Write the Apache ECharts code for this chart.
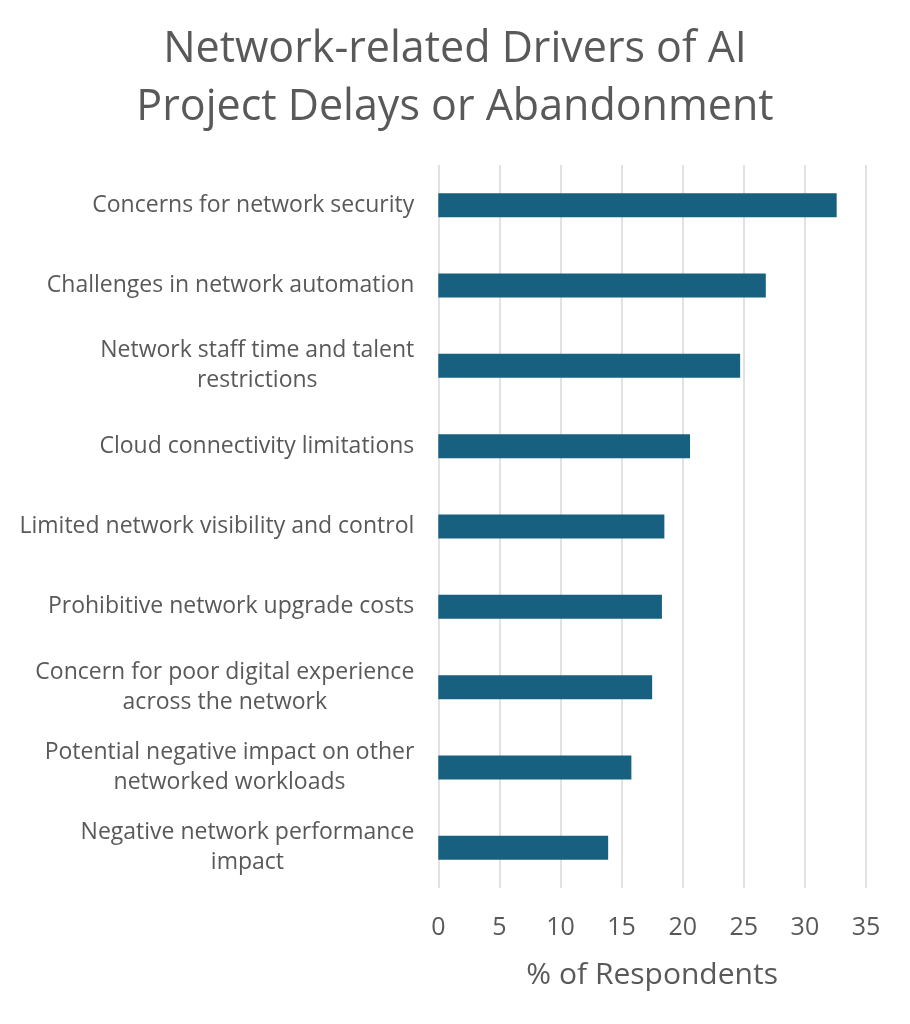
<!DOCTYPE html>
<html>
<head>
<meta charset="utf-8">
<script src="https://cdn.jsdelivr.net/npm/echarts@6/dist/echarts.min.js"></script>
<style>
html,body{margin:0;padding:0;background:#fff;}
#chart{width:910px;height:1024px;}
</style>
</head>
<body>
<div id="chart"></div>
<script>
const titleText = "Network-related Drivers of AI\nProject Delays or Abandonment";
const categories = [
  "Concerns for network security",
  "Challenges in network automation",
  "Network staff time and talent\nrestrictions",
  "Cloud connectivity limitations",
  "Limited network visibility and control",
  "Prohibitive network upgrade costs",
  "Concern for poor digital experience\nacross the network",
  "Potential negative impact on other\nnetworked workloads",
  "Negative network performance\nimpact"
];
const values = [32.6, 26.8, 24.7, 20.6, 18.5, 18.3, 17.5, 15.8, 13.9];
const xAxisName = "% of Respondents";

const FONT = "Open Sans";
const TXT = "#595959";
const LABEL_SIZE = 23;

// Multi-line labels: lines centred within block, block right-aligned
const ctx = document.createElement('canvas').getContext('2d');
ctx.font = LABEL_SIZE + "px '" + FONT + "'";
const catData = categories.map(function (c) {
  if (c.indexOf("\n") < 0) return c;
  const w = Math.max.apply(null, c.split("\n").map(function (l) { return ctx.measureText(l).width; }));
  return {value: c, textStyle: {align: "center", padding: [0, w, 0, 0]}};
});

const chart = echarts.init(document.getElementById('chart'));
chart.setOption({
  animation: false,
  backgroundColor: "#ffffff",
  title: {
    text: titleText,
    left: "center",
    top: 16,
    textStyle: {fontFamily: FONT, fontSize: 43, fontWeight: "normal", color: TXT, lineHeight: 58}
  },
  grid: {left: 438.3, right: 44, top: 165, bottom: 136, containLabel: false},
  xAxis: {
    type: "value",
    min: 0, max: 35, interval: 5,
    name: xAxisName,
    nameLocation: "middle",
    nameGap: 72,
    nameTextStyle: {fontFamily: FONT, fontSize: 30, color: TXT},
    axisLine: {show: false},
    axisTick: {show: false},
    axisLabel: {fontFamily: FONT, fontSize: 25, color: TXT, margin: 27},
    splitLine: {show: true, lineStyle: {color: "#d9d9d9", width: 1.5}}
  },
  yAxis: {
    type: "category",
    data: catData,
    inverse: true,
    axisLine: {show: false},
    axisTick: {show: false},
    axisLabel: {fontFamily: FONT, fontSize: LABEL_SIZE, color: TXT, margin: 24, lineHeight: 30, align: "right"}
  },
  series: [{
    type: "bar",
    data: values,
    barWidth: 24,
    itemStyle: {color: "#17607f"}
  }]
});
</script>
</body>
</html>
